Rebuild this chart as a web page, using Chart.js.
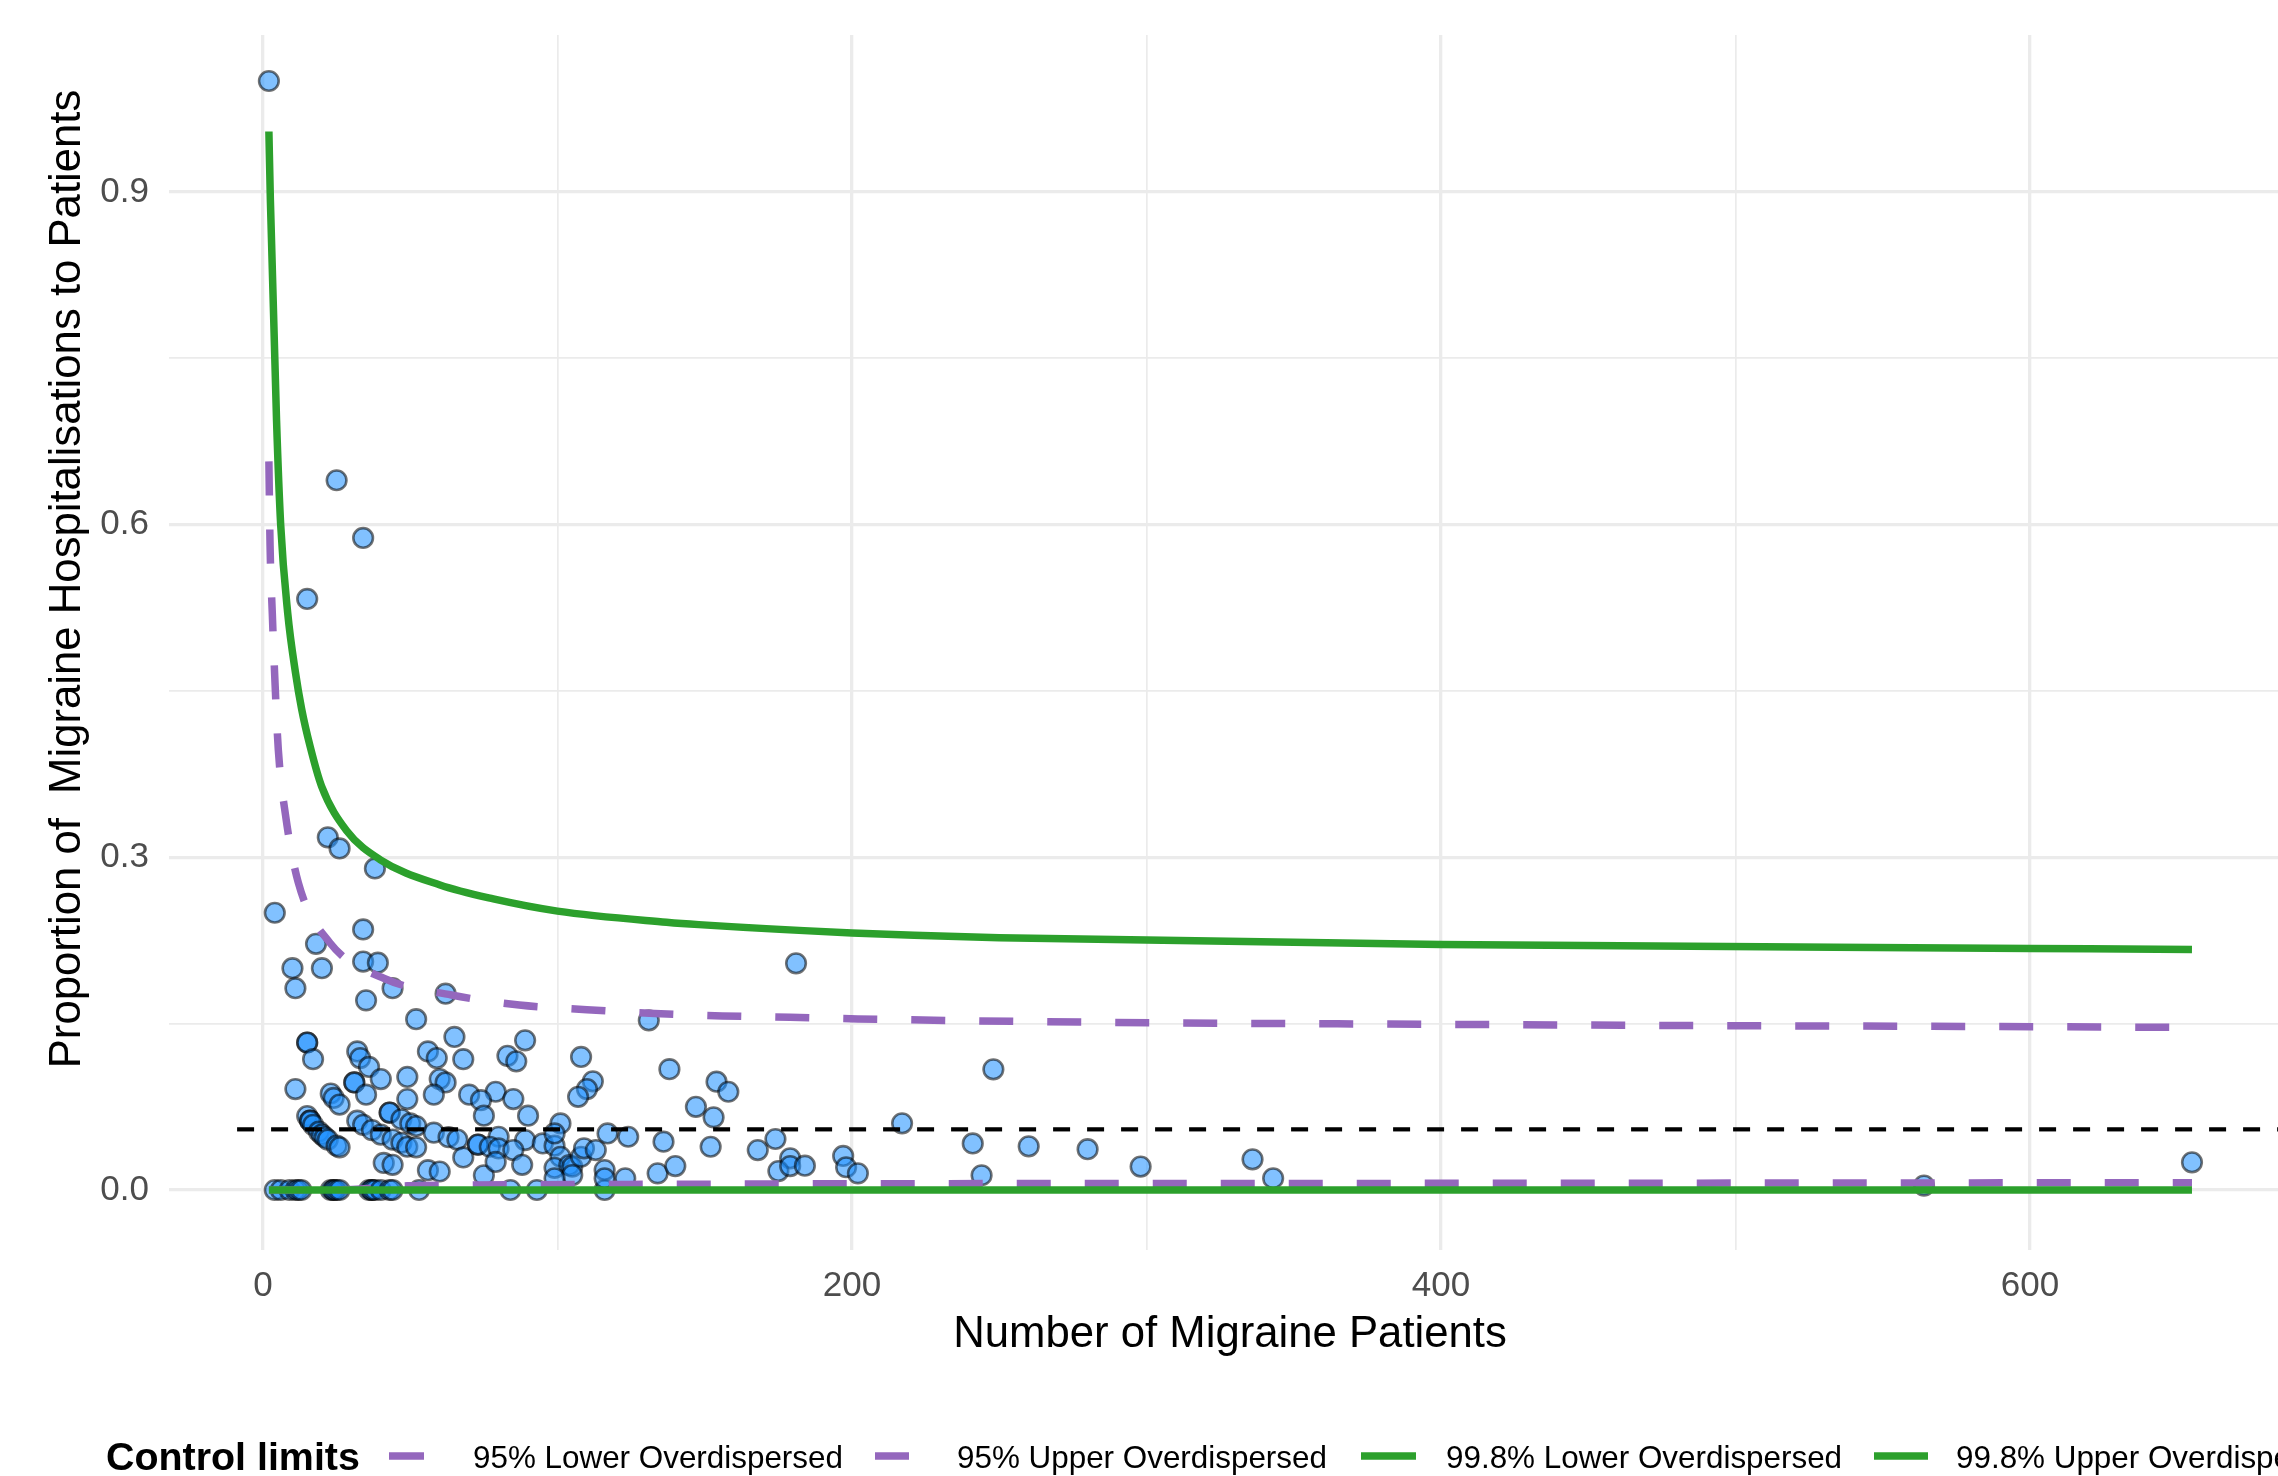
<!DOCTYPE html>
<html>
<head>
<meta charset="utf-8">
<title>Migraine hospitalisations funnel plot</title>
<script src="https://cdn.jsdelivr.net/npm/chart.js@4.4.1/dist/chart.umd.min.js"></script>
<style>
  html, body { margin: 0; padding: 0; background: #ffffff; }
  canvas { display: block; }
</style>
</head>
<body>
<canvas id="funnel" width="2278" height="1476"></canvas>
<script>
// Each provider: number of migraine patients and the proportion hospitalised
const patients = [
  4, 6, 9, 11, 12, 13, 23, 24, 24, 25, 26, 36, 37, 37, 38, 40, 43, 44, 53, 84, 93, 116,
  2, 25, 34, 15, 22, 26, 38, 4, 18, 10, 20, 11, 34, 34, 39, 44, 35, 52, 62, 65,
  15, 15, 17, 11, 32, 33, 36, 40, 31, 31, 35, 49, 49, 56, 59, 68, 60, 62, 58, 70,
  23, 24, 26, 15, 16, 16, 17, 19, 20, 21, 22, 25, 26, 32, 34, 37, 40, 44, 47, 49, 52,
  43, 43, 47, 50, 52, 58, 63, 66, 68, 73, 73, 41, 44, 56, 60,
  131, 89, 83, 86, 108, 112, 110, 107, 138, 147, 79, 85, 74, 75, 90, 101, 80, 77, 80,
  89, 95, 99, 99, 85, 88, 75, 79, 101, 99, 104, 105, 108, 109, 113, 117, 124, 136,
  116, 116, 123, 134, 140, 105, 99,
  181, 154, 158, 153, 152, 168, 174, 179, 175, 179, 184, 197, 198, 202, 217,
  241, 244, 248, 260, 280, 298, 336, 343, 564, 655
];
const hospitalisedShare = [
  0, 0, 0, 0, 0, 0, 0, 0, 0, 0, 0, 0, 0, 0, 0, 0, 0, 0, 0, 0, 0, 0,
  1.0, 0.64, 0.588, 0.533, 0.318, 0.308, 0.290, 0.25, 0.222, 0.2, 0.2, 0.182, 0.235, 0.206, 0.205, 0.182, 0.171, 0.154, 0.177, 0.138,
  0.133, 0.133, 0.118, 0.091, 0.125, 0.119, 0.111, 0.100, 0.097, 0.097, 0.086, 0.102, 0.082, 0.125, 0.119, 0.118, 0.100, 0.097, 0.086, 0.086,
  0.087, 0.083, 0.077, 0.0667, 0.0625, 0.0625, 0.0588, 0.0526, 0.05, 0.0476, 0.0455, 0.04, 0.0385, 0.0625, 0.0588, 0.054, 0.05, 0.0455, 0.0426, 0.039, 0.0385,
  0.0698, 0.0698, 0.0638, 0.06, 0.0577, 0.0517, 0.0476, 0.0455, 0.0294, 0.041, 0.041, 0.0244, 0.0227, 0.0179, 0.0167,
  0.153, 0.135, 0.121, 0.116, 0.120, 0.098, 0.091, 0.084, 0.109, 0.075, 0.0886, 0.082, 0.081, 0.067, 0.067, 0.060, 0.048, 0.039, 0.0375,
  0.045, 0.042, 0.040, 0.051, 0.036, 0.0227, 0.0133, 0.0253, 0.030, 0.020, 0.0225, 0.021, 0.030, 0.0376, 0.036, 0.051, 0.048, 0.0436,
  0.018, 0.0105, 0.0105, 0.015, 0.0216, 0.0135, 0.0105,
  0.2044, 0.0977, 0.0886, 0.0655, 0.039, 0.036, 0.046, 0.0286, 0.0171, 0.0216, 0.0219, 0.0307, 0.0205, 0.015, 0.0601,
  0.042, 0.0133, 0.1088, 0.0394, 0.0368, 0.0211, 0.0277, 0.0106, 0.004, 0.025
];

// Control limits: patient counts and limit proportions
const upper998N = [2, 2.5, 4.6, 6.0, 8.4, 11.0, 13.1, 16, 19.9, 28.4, 39.7, 60.1, 78.2, 100, 137, 148, 200, 224, 250, 400, 600, 655];
const upper998  = [0.9545, 0.893, 0.694, 0.600, 0.520, 0.467, 0.434, 0.40, 0.364, 0.324, 0.298, 0.275, 0.2625, 0.2515, 0.2415, 0.2393, 0.2318, 0.2295, 0.2275, 0.2214, 0.2178, 0.2168];
const upper95N  = [2, 2.4, 3.17, 4.07, 5.2, 7.7, 12, 22.7, 41.8, 64, 87, 110, 133, 156, 179, 202, 264, 444, 645, 655];
const upper95   = [0.657, 0.581, 0.519, 0.458, 0.397, 0.337, 0.277, 0.223, 0.190, 0.1758, 0.1668, 0.1626, 0.1592, 0.1570, 0.1558, 0.1543, 0.1518, 0.1488, 0.1467, 0.1465];
const lower95N  = [2, 25, 49, 70, 120, 200, 400, 655];
const lower95   = [0, 0, 0.0038, 0.0045, 0.005, 0.0056, 0.006, 0.0066];
const lower998N = [2, 655];
const lower998  = [0, 0];

// Overall proportion (reference line)
const overallShare = 0.0547;
const overallN = [-8.8, 684.2];

// Axes
const xTicks = [0, 100, 200, 300, 400, 500, 600];
const xTickLabels = ['0', '', '200', '', '400', '', '600'];
const yTicks = [0, 0.15, 0.3, 0.45, 0.6, 0.75, 0.9];
const yTickLabels = ['0.0', '', '0.3', '', '0.6', '', '0.9'];
const xTitle = 'Number of Migraine Patients';
const yTitle = 'Proportion of  Migraine Hospitalisations to Patients';

// Legend
const legendTitle = 'Control limits';
const legendLabels = ['95% Lower Overdispersed', '95% Upper Overdispersed', '99.8% Lower Overdispersed', '99.8% Upper Overdispersed'];

const FONT = '"Liberation Sans", Arial, Helvetica, sans-serif';
const PURPLE = '#9467bd';
const GREEN = '#2ca02c';

const pairs = (xs, ys) => xs.map((x, i) => ({ x: x, y: ys[i] }));

const limitLine = (label, xs, ys, color, dash, order) => ({
  type: 'line',
  label: label,
  data: pairs(xs, ys),
  borderColor: color,
  borderWidth: 7.5,
  borderDash: dash,
  borderCapStyle: 'butt',
  pointRadius: 0,
  fill: false,
  cubicInterpolationMode: 'monotone',
  order: order
});

// Axis titles and the horizontal legend along the bottom
const frameText = {
  id: 'frameText',
  afterDraw(chart) {
    const c = chart.ctx;
    c.save();
    c.fillStyle = '#000000';
    c.font = '43.7px ' + FONT;
    c.textAlign = 'center';
    c.textBaseline = 'alphabetic';
    c.fillText(xTitle, 1230, 1347);
    c.save();
    c.translate(80, 579);
    c.rotate(-Math.PI / 2);
    c.fillText(yTitle, 0, 0);
    c.restore();

    c.textAlign = 'left';
    c.font = 'bold 39.4px ' + FONT;
    c.fillText(legendTitle, 106, 1470);

    const keys = [
      { x0: 389, x1: 424, color: PURPLE, text: 473 },
      { x0: 875, x1: 909, color: PURPLE, text: 957 },
      { x0: 1361, x1: 1416, color: GREEN, text: 1446 },
      { x0: 1874, x1: 1928, color: GREEN, text: 1956 }
    ];
    c.font = '31.4px ' + FONT;
    keys.forEach((k, i) => {
      c.strokeStyle = k.color;
      c.lineWidth = 7.5;
      c.lineCap = 'butt';
      c.beginPath();
      c.moveTo(k.x0, 1456);
      c.lineTo(k.x1, 1456);
      c.stroke();
      c.fillStyle = '#000000';
      c.fillText(legendLabels[i], k.text, 1468);
    });
    c.restore();
  }
};

const majorX = [0, 200, 400, 600];
const majorY = [0, 0.3, 0.6, 0.9];

new Chart(document.getElementById('funnel'), {
  data: {
    datasets: [
      limitLine('99.8% Lower Overdispersed', lower998N, lower998, GREEN, [], 0),
      limitLine('99.8% Upper Overdispersed', upper998N, upper998, GREEN, [], 0),
      limitLine('95% Lower Overdispersed', lower95N, lower95, PURPLE, [34, 34], 1),
      limitLine('95% Upper Overdispersed', upper95N, upper95, PURPLE, [34, 34], 1),
      {
        type: 'line',
        label: 'Overall proportion',
        data: overallN.map(n => ({ x: n, y: overallShare })),
        borderColor: '#000000',
        borderWidth: 4.2,
        borderDash: [17, 17],
        pointRadius: 0,
        fill: false,
        order: 2
      },
      {
        type: 'scatter',
        label: 'Providers',
        data: pairs(patients, hospitalisedShare),
        backgroundColor: 'rgba(30, 144, 255, 0.56)',
        borderColor: 'rgba(0, 0, 0, 0.55)',
        borderWidth: 2.6,
        pointRadius: 9.8,
        order: 3
      }
    ]
  },
  options: {
    responsive: false,
    devicePixelRatio: 1,
    animation: false,
    events: [],
    layout: { autoPadding: false, padding: { left: 0, right: 0, top: 35, bottom: 0 } },
    plugins: {
      legend: { display: false },
      tooltip: { enabled: false },
      title: { display: false }
    },
    scales: {
      x: {
        type: 'linear',
        position: 'bottom',
        min: -31.92,
        max: 684.21,
        afterBuildTicks: (scale) => { scale.ticks = xTicks.map(v => ({ value: v })); },
        afterFit: (scale) => {
          scale.height = 226;
          scale.paddingLeft = 0;
          scale.paddingRight = 0;
        },
        border: { display: false },
        grid: {
          color: '#ebebeb',
          drawTicks: false,
          lineWidth: (ctx) => majorX.includes(ctx.tick && ctx.tick.value) ? 3.3 : 1.7
        },
        ticks: {
          autoSkip: false,
          maxRotation: 0,
          padding: 15,
          color: '#4d4d4d',
          font: { family: FONT, size: 35 },
          callback: (value, index) => xTickLabels[index]
        }
      },
      y: {
        type: 'linear',
        position: 'left',
        min: -0.0541,
        max: 1.0415,
        afterBuildTicks: (scale) => { scale.ticks = yTicks.map(v => ({ value: v })); },
        afterFit: (scale) => {
          scale.width = 169;
          scale.paddingTop = 0;
          scale.paddingBottom = 0;
        },
        border: { display: false },
        grid: {
          color: '#ebebeb',
          drawTicks: false,
          lineWidth: (ctx) => majorY.includes(ctx.tick && ctx.tick.value) ? 3.3 : 1.7
        },
        ticks: {
          autoSkip: false,
          padding: 20,
          color: '#4d4d4d',
          font: { family: FONT, size: 35 },
          callback: (value, index) => yTickLabels[index]
        }
      }
    }
  },
  plugins: [frameText]
});
</script>
</body>
</html>
